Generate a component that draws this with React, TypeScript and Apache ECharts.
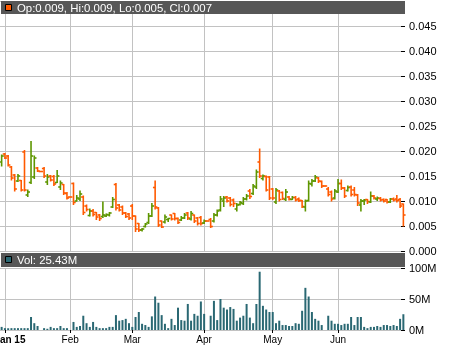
import { useEffect, useRef } from "react";
import * as echarts from "echarts";

// Prices are given in units of 0.0001
const PRICE_UNIT = 0.0001;

const openE4 = [
  178, 194, 190, 168, 152, 140, 141, 198, 112, 137,
  148, 166, 159, 165, 138, 150, 149, 137, 128, 133,
  115, 108, 135, 100, 104, 108, 90, 71, 80, 77,
  72, 69, 70, 72, 88, 133, 92, 88, 76, 74,
  90, 70, 55, 42, 49, 57, 70, 127, 86, 60,
  58, 63, 72, 75, 65, 62, 66, 76, 64, 72,
  66, 67, 56, 60, 63, 60, 72, 82, 100, 108,
  106, 102, 84, 93, 95, 104, 120, 115, 128, 178,
  145, 149, 148, 124, 98, 120, 117, 103, 108, 103,
  107, 104, 101, 88, 101, 134, 140, 146, 139, 130,
  124, 118, 106, 118, 135, 126, 121, 128, 122, 112,
  92, 100, 103, 98, 110, 104, 105, 103, 103, 98,
  104, 104, 103, 94,
];
const highE4 = [
  192, 195, 191, 169, 153, 153, 141, 201, 122, 219,
  190, 167, 159, 167, 153, 151, 151, 161, 140, 133,
  117, 108, 136, 111, 120, 110, 92, 84, 83, 77,
  73, 98, 74, 77, 107, 135, 93, 90, 77, 75,
  93, 70, 55, 45, 55, 75, 95, 140, 87, 60,
  72, 65, 72, 75, 66, 69, 75, 77, 79, 72,
  67, 69, 62, 60, 65, 75, 82, 109, 109, 109,
  107, 104, 95, 99, 107, 113, 123, 133, 162, 204,
  152, 150, 149, 125, 125, 121, 118, 123, 109, 109,
  109, 106, 101, 102, 140, 143, 151, 147, 140, 130,
  127, 120, 123, 143, 142, 127, 130, 130, 127, 113,
  103, 103, 103, 118, 111, 108, 107, 104, 103, 105,
  106, 111, 105, 94,
];
const lowE4 = [
  170, 185, 170, 142, 120, 139, 120, 120, 109, 135,
  145, 159, 159, 147, 133, 140, 131, 137, 123, 113,
  104, 108, 93, 100, 101, 73, 80, 70, 70, 63,
  61, 67, 69, 70, 87, 82, 80, 73, 67, 63,
  63, 39, 39, 40, 48, 55, 69, 84, 49, 47,
  56, 59, 62, 62, 55, 61, 65, 63, 62, 57,
  52, 52, 55, 60, 47, 58, 70, 80, 89, 98,
  90, 89, 80, 92, 93, 102, 105, 113, 125, 147,
  142, 120, 103, 103, 95, 100, 103, 101, 102, 103,
  100, 99, 87, 80, 100, 130, 139, 137, 127, 130,
  110, 100, 104, 117, 123, 107, 120, 110, 110, 91,
  80, 93, 95, 97, 104, 101, 100, 98, 96, 97,
  100, 98, 87, 50,
];
const closeE4 = [
  190, 186, 172, 146, 124, 150, 122, 122, 118, 190,
  186, 160, 159, 150, 148, 142, 134, 150, 136, 116,
  106, 108, 97, 106, 114, 77, 83, 80, 73, 68,
  65, 72, 73, 76, 103, 86, 82, 76, 69, 66,
  70, 44, 42, 44, 54, 70, 90, 88, 52, 48,
  68, 65, 64, 65, 57, 66, 72, 66, 75, 60,
  55, 55, 60, 60, 49, 72, 80, 104, 106, 100,
  93, 95, 92, 97, 104, 110, 109, 130, 158, 150,
  150, 122, 106, 106, 122, 103, 105, 118, 104, 107,
  102, 101, 89, 100, 135, 140, 148, 140, 130, 130,
  113, 104, 120, 135, 126, 110, 127, 113, 113, 96,
  100, 102, 99, 110, 106, 106, 102, 100, 98, 104,
  102, 101, 90, 72,
];
// Volume in millions of shares
const volumeM = [
  5, 3, 3, 3, 3, 3, 3, 3, 3, 21,
  11, 6.5, 0, 3, 2, 5, 3, 3, 6.5, 3,
  3, 0, 13, 5, 6.5, 23, 11, 5, 13, 5,
  3, 3, 3, 5, 5, 24, 15, 16, 18, 11,
  5, 21, 29, 10, 8, 5, 22, 54, 44, 24,
  10, 3, 18, 8, 36, 16, 15, 42, 15, 26,
  23, 46, 26, 0, 23, 47, 16, 50, 36, 33,
  37, 34, 15, 20, 23, 42, 20, 11, 42, 94,
  39, 33, 29, 29, 11, 15, 8, 8, 6.5, 6.5,
  11, 10, 31, 68, 54, 29, 18, 15, 8, 0,
  23, 15, 10, 10, 8, 10, 10, 21, 8, 21,
  21, 5, 3, 5, 5, 6.5, 5, 8, 8, 6.5,
  8, 6.5, 18, 25.43,
];
const monthTickIndex = [1, 21, 40, 62, 83, 103];
const monthLabels = ["Jan 15", "Feb", "Mar", "Apr", "May", "Jun"];

const GREEN = "#5e9600";
const ORANGE = "#ff5a00";
const TEAL = "#2a6873";
const GRID = "#c2c2c2";
const HEADER = "#575757";
const FONT = "'Liberation Sans', Arial, sans-serif";

export default function App() {
  const ref = useRef<HTMLDivElement>(null);
  useEffect(() => {
    const chart = echarts.init(ref.current!, null, { renderer: "svg" });
    const n = openE4.length;
    const cats = openE4.map((_, i) => String(i));
    const ohlc = openE4.map((o, i) => [
      i,
      o * PRICE_UNIT,
      highE4[i] * PRICE_UNIT,
      lowE4[i] * PRICE_UNIT,
      closeE4[i] * PRICE_UNIT,
    ]);
    const isMonth = (i: number) => monthTickIndex.indexOf(i) >= 0;
    const last = n - 1;
    const headerText =
      `Op:${(openE4[last] * PRICE_UNIT).toFixed(3)}, Hi:${(highE4[last] * PRICE_UNIT).toFixed(3)}, ` +
      `Lo:${(lowE4[last] * PRICE_UNIT).toFixed(3)}, Cl:${(closeE4[last] * PRICE_UNIT).toFixed(3)}`;
    const volText = `Vol: ${volumeM[last].toFixed(2)}M`;

    const labelBase = { color: "#000", fontSize: 11, fontFamily: FONT };
    const xLabelBase = { color: "#000", fontSize: 10, fontFamily: FONT };

    chart.setOption({
      animation: false,
      grid: [
        { left: 0, right: 45, top: 1, height: 250, containLabel: false, outerBoundsMode: "none" },
        { left: 0, right: 45, top: 268, height: 62, containLabel: false, outerBoundsMode: "none" },
      ],
      xAxis: [
        {
          gridIndex: 0,
          type: "category",
          data: cats,
          boundaryGap: true,
          axisLine: { show: false },
          axisLabel: { show: false },
          splitLine: { show: false },
          axisTick: {
            show: true,
            inside: true,
            length: 250,
            alignWithLabel: true,
            interval: (i: number) => isMonth(i),
            lineStyle: { color: GRID, width: 1 },
          },
        },
        {
          gridIndex: 1,
          type: "category",
          data: cats,
          position: "bottom",
          boundaryGap: true,
          axisLine: { show: false },
          splitLine: { show: false },
          axisTick: {
            show: true,
            length: 3,
            alignWithLabel: true,
            interval: (i: number) => isMonth(i),
            lineStyle: { color: "#000", width: 1 },
          },
          axisLabel: {
            ...xLabelBase,
            margin: 4,
            interval: (i: number) => isMonth(i),
            formatter: (_v: string, i: number) => {
              const k = monthTickIndex.indexOf(i);
              const t = k >= 0 ? monthLabels[k] : "";
              return k === 0 ? `{b|${t}}` : t;
            },
            rich: { b: { ...xLabelBase, fontWeight: "bold", padding: [0, 0, 0, 10] } },
          },
        },
        {
          gridIndex: 1,
          type: "category",
          data: cats,
          position: "top",
          boundaryGap: true,
          axisLine: { show: false },
          axisLabel: { show: false },
          splitLine: { show: false },
          axisTick: {
            show: true,
            inside: true,
            length: 62,
            alignWithLabel: true,
            interval: (i: number) => isMonth(i),
            lineStyle: { color: GRID, width: 1 },
          },
        },
      ],
      yAxis: [
        {
          gridIndex: 0,
          type: "value",
          position: "right",
          min: 0,
          max: 0.05,
          interval: 0.005,
          axisLine: { show: false },
          axisTick: { show: true, inside: true, length: 4, lineStyle: { color: "#000" } },
          axisLabel: {
            ...labelBase,
            margin: 4,
            showMaxLabel: false,
            formatter: (v: number) => v.toFixed(3),
          },
          splitLine: { show: true, lineStyle: { color: GRID, width: 1 } },
        },
        {
          gridIndex: 1,
          type: "value",
          position: "right",
          min: 0,
          max: 100,
          interval: 50,
          axisLine: { show: false },
          axisTick: { show: true, inside: true, length: 4, lineStyle: { color: "#000" } },
          axisLabel: {
            ...labelBase,
            margin: 4,
            formatter: (v: number) => `${v}M`,
          },
          splitLine: { show: true, lineStyle: { color: GRID, width: 1 } },
        },
      ],
      series: [
        {
          type: "custom",
          xAxisIndex: 0,
          yAxisIndex: 0,
          data: ohlc,
          encode: { x: 0, y: [1, 2, 3, 4] },
          silent: true,
          renderItem: (_params: any, api: any) => {
            const i = api.value(0);
            const o = api.value(1);
            const h = api.value(2);
            const l = api.value(3);
            const c = api.value(4);
            const pH = api.coord([i, h]);
            const pL = api.coord([i, l]);
            const pO = api.coord([i, o]);
            const pC = api.coord([i, c]);
            const x = pH[0];
            const color = c > o ? GREEN : ORANGE;
            const st = { stroke: color, lineWidth: 1.6 };
            return {
              type: "group",
              children: [
                { type: "line", shape: { x1: x, y1: pH[1] - 0.5, x2: x, y2: pL[1] + 0.5 }, style: st },
                { type: "line", shape: { x1: x - 2.2, y1: pO[1], x2: x, y2: pO[1] }, style: st },
                { type: "line", shape: { x1: x, y1: pC[1], x2: x + 2.2, y2: pC[1] }, style: st },
              ],
            };
          },
        },
        {
          type: "bar",
          xAxisIndex: 1,
          yAxisIndex: 1,
          data: volumeM,
          barWidth: 2,
          silent: true,
          itemStyle: { color: TEAL },
        },
      ],
      graphic: [
        { type: "rect", z: 100, shape: { x: 1, y: 1, width: 404, height: 13 }, style: { fill: HEADER } },
        {
          type: "rect",
          z: 101,
          shape: { x: 5.5, y: 4.5, width: 6, height: 6 },
          style: { fill: ORANGE, stroke: "#000", lineWidth: 1 },
        },
        {
          type: "text",
          z: 101,
          x: 17,
          y: 8,
          style: { text: headerText, fill: "#fff", font: `11.4px ${FONT}`, verticalAlign: "middle" },
        },
        { type: "rect", z: 100, shape: { x: 1, y: 253, width: 404, height: 14 }, style: { fill: HEADER } },
        {
          type: "rect",
          z: 101,
          shape: { x: 5.5, y: 256.5, width: 6, height: 6 },
          style: { fill: TEAL, stroke: "#000", lineWidth: 1 },
        },
        {
          type: "text",
          z: 101,
          x: 17,
          y: 260,
          style: { text: volText, fill: "#fff", font: `11.4px ${FONT}`, verticalAlign: "middle" },
        },
      ],
    });
    return () => chart.dispose();
  }, []);
  return <div ref={ref} style={{ position: "fixed", left: 0, top: 0, width: 450, height: 350 }} />;
}
